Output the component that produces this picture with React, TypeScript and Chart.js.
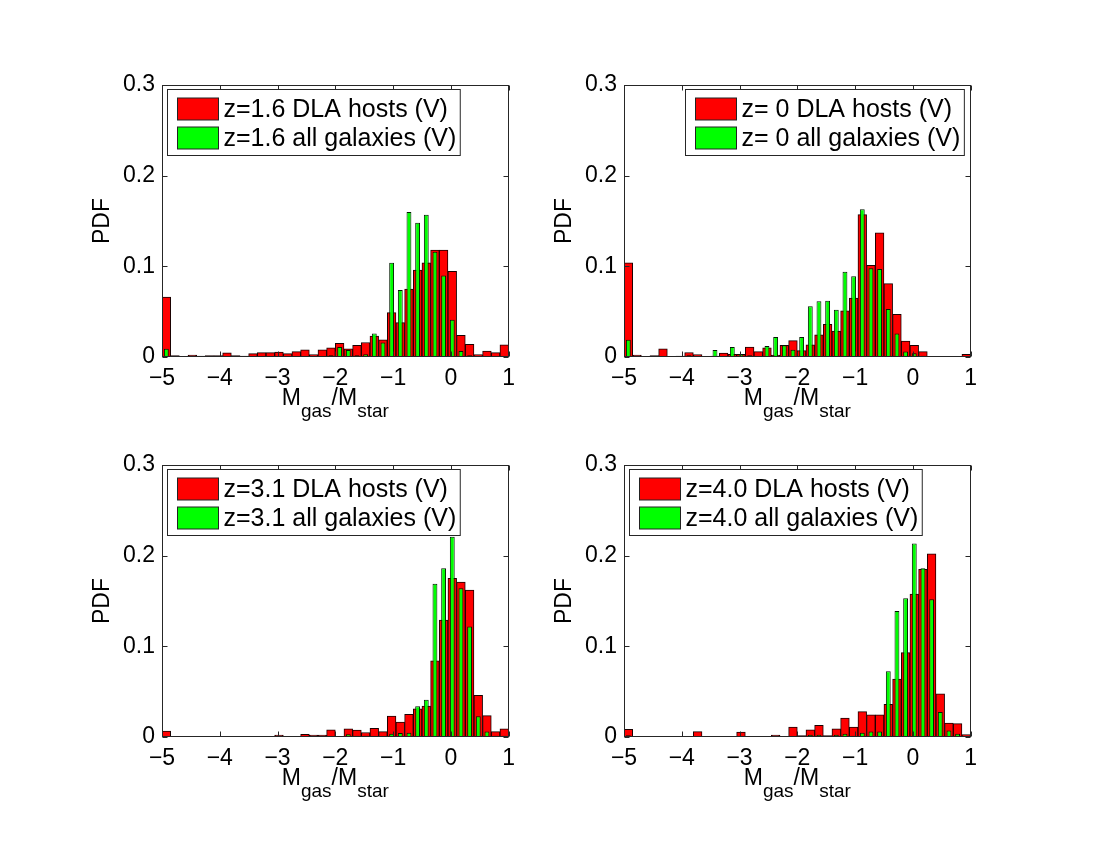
import { useEffect, useRef } from "react";
import { Chart, registerables } from "chart.js";
import type { Plugin } from "chart.js";

Chart.register(...registerables);

const FONT = "'Liberation Sans', Arial, Helvetica, sans-serif";

// centres of the 40 histogram bins (width 0.15) between -5 and 1
const BIN_CENTERS = [
  -4.925, -4.775, -4.625, -4.475, -4.325, -4.175, -4.025, -3.875, -3.725, -3.575,
  -3.425, -3.275, -3.125, -2.975, -2.825, -2.675, -2.525, -2.375, -2.225, -2.075,
  -1.925, -1.775, -1.625, -1.475, -1.325, -1.175, -1.025, -0.875, -0.725, -0.575,
  -0.425, -0.275, -0.125, 0.025, 0.175, 0.325, 0.475, 0.625, 0.775, 0.925,
];

const X_TICKS = [-5, -4, -3, -2, -1, 0, 1];
const Y_TICKS = [0, 0.1, 0.2, 0.3];

// z = 1.6
const DLA_Z16 = [
  0.066, 0.0015, 0.0007, 0.002, 0.001, 0.0015, 0.0015, 0.0045, 0.0015, 0.001,
  0.0037, 0.0048, 0.0048, 0.0055, 0.0037, 0.006, 0.008, 0.0026, 0.008, 0.01,
  0.015, 0.009, 0.013, 0.016, 0.023, 0.019, 0.049, 0.038, 0.075, 0.096,
  0.104, 0.118, 0.118, 0.0945, 0.024, 0.014, 0.0026, 0.0066, 0.0048, 0.0135,
];
const ALL_Z16 = [
  0.009, 0, 0, 0, 0, 0, 0, 0, 0, 0,
  0, 0, 0, 0.0005, 0, 0, 0, 0, 0.001, 0.002,
  0.011, 0.0077, 0.002, 0.003, 0.026, 0.016, 0.104, 0.074, 0.16, 0.148,
  0.157, 0.116, 0.09, 0.041, 0.0066, 0.002, 0, 0, 0, 0.0005,
];

// z = 0
const DLA_Z0 = [
  0.104, 0.002, 0.0003, 0.0015, 0.009, 0.0004, 0.001, 0.005, 0.0026, 0.0004,
  0.001, 0.0044, 0.003, 0.003, 0.011, 0.006, 0.01, 0.002, 0.013, 0.018,
  0.007, 0.0135, 0.0245, 0.036, 0.0285, 0.051, 0.065, 0.157, 0.101, 0.137,
  0.081, 0.047, 0.0176, 0.013, 0.006, 0.0004, 0.0003, 0.0003, 0.0003, 0.003,
];
const ALL_Z0 = [
  0.019, 0, 0, 0, 0.001, 0, 0.0005, 0.002, 0, 0,
  0.0077, 0.001, 0.011, 0.003, 0.002, 0.001, 0.012, 0.022, 0.013, 0.008,
  0.022, 0.056, 0.0615, 0.062, 0.052, 0.094, 0.089, 0.163, 0.098, 0.097,
  0.053, 0.026, 0.006, 0.004, 0.0015, 0, 0, 0, 0, 0,
];

// z = 3.1
const DLA_Z31 = [
  0.0066, 0, 0, 0, 0, 0, 0, 0, 0, 0,
  0, 0, 0, 0.002, 0, 0, 0.003, 0.002, 0.002, 0.008,
  0.0007, 0.009, 0.0077, 0.005, 0.0095, 0.006, 0.023, 0.0165, 0.025, 0.031,
  0.034, 0.084, 0.129, 0.175, 0.171, 0.162, 0.046, 0.0235, 0.006, 0.009,
];
const ALL_Z31 = [
  0, 0, 0, 0, 0, 0, 0, 0, 0, 0,
  0, 0, 0, 0, 0, 0, 0, 0, 0, 0.001,
  0, 0.003, 0.0015, 0.0015, 0.001, 0.001, 0.0037, 0.0044, 0.0048, 0.034,
  0.041, 0.169, 0.186, 0.221, 0.164, 0.122, 0.023, 0.006, 0.0015, 0.0015,
];

// z = 4.0
const DLA_Z40 = [
  0.0084, 0, 0, 0, 0, 0, 0, 0, 0.006, 0,
  0.0005, 0, 0, 0.0055, 0, 0, 0, 0.002, 0, 0.011,
  0.0015, 0.008, 0.013, 0.0015, 0.009, 0.021, 0.011, 0.028, 0.0245, 0.0245,
  0.036, 0.064, 0.093, 0.1575, 0.185, 0.202, 0.0476, 0.0154, 0.0147, 0.0026,
];
const ALL_Z40 = [
  0.002, 0, 0, 0, 0, 0, 0, 0, 0.001, 0,
  0, 0, 0, 0, 0, 0, 0, 0, 0, 0.001,
  0, 0.0026, 0.0026, 0, 0.0026, 0.0037, 0.0015, 0.0048, 0.006, 0.006,
  0.0725, 0.139, 0.153, 0.2135, 0.186, 0.152, 0.0275, 0.0073, 0.0037, 0,
];

const fmtX = (v: number) => String(v).replace("-", "\u2212");
const fmtY = (v: number) => (v === 0 ? "0" : v.toFixed(1));

// matlab-ish box, inward ticks, legend inside the axes and the subscripted xlabel
const matlabFrame: Plugin<"bar"> = {
  id: "matlabFrame",
  afterDraw(chart, _args, opts: any) {
    const { ctx, chartArea: a } = chart;
    const xs = chart.scales.x;
    const ys = chart.scales.y;
    const L = Math.round(a.left) + 0.5;
    const R = Math.round(a.right) - 0.5;
    const T = Math.round(a.top) + 0.5;
    const B = Math.round(a.bottom) - 0.5;

    ctx.save();
    ctx.strokeStyle = "#262626";
    ctx.lineWidth = 1;
    ctx.strokeRect(L, T, R - L, B - T);
    ctx.beginPath();
    xs.ticks.forEach((t) => {
      const px = Math.round(xs.getPixelForValue(t.value)) + 0.5;
      ctx.moveTo(px, B); ctx.lineTo(px, B - 5);
      ctx.moveTo(px, T); ctx.lineTo(px, T + 5);
    });
    ys.ticks.forEach((t) => {
      const py = Math.round(ys.getPixelForValue(t.value)) + 0.5;
      ctx.moveTo(L, py); ctx.lineTo(L + 5, py);
      ctx.moveTo(R, py); ctx.lineTo(R - 5, py);
    });
    ctx.stroke();

    // legend
    const ds = chart.data.datasets;
    ctx.font = `25px ${FONT}`;
    const tw = Math.max(...ds.map((d) => ctx.measureText(String(d.label)).width));
    const w = 10 + 41 + 5 + tw + 4;
    const h = 66;
    const bx = Math.round(opts.legendSide === "right" ? a.right - 7 - w : a.left + 5) + 0.5;
    const by = Math.round(a.top + 4) + 0.5;
    ctx.fillStyle = "#fff";
    ctx.fillRect(bx, by, w, h);
    ctx.strokeRect(bx, by, w, h);
    ctx.textBaseline = "middle";
    ctx.textAlign = "left";
    ds.forEach((d, i) => {
      const cy = by + 19.5 + i * 29;
      ctx.fillStyle = d.backgroundColor as string;
      ctx.fillRect(bx + 10, Math.round(cy - 11), 41, 22);
      ctx.strokeStyle = "#222";
      ctx.strokeRect(bx + 10, Math.round(cy - 11), 41, 22);
      ctx.fillStyle = "#000";
      ctx.fillText(String(d.label), bx + 56, cy + 1);
    });

    // xlabel  M_gas / M_star
    const parts: [string, number, number][] = [
      ["M", 23, 0],
      ["gas", 19, 12],
      ["/M", 23, 0],
      ["star", 19, 12],
    ];
    const widths = parts.map(([s, size]) => {
      ctx.font = `${size}px ${FONT}`;
      return ctx.measureText(s).width;
    });
    const total = widths.reduce((p, c) => p + c, 0);
    let cx = (a.left + a.right) / 2 - total / 2;
    const base = a.bottom + 48;
    ctx.textBaseline = "alphabetic";
    ctx.fillStyle = "#000";
    parts.forEach(([s, size, dy], i) => {
      ctx.font = `${size}px ${FONT}`;
      ctx.fillText(s, cx, base + dy);
      cx += widths[i];
    });
    ctx.restore();
  },
};

type PanelProps = {
  redLabel: string;
  greenLabel: string;
  red: number[];
  green: number[];
  legendSide: "left" | "right";
  left: number;
  top: number;
};

function Panel({ redLabel, greenLabel, red, green, legendSide, left, top }: PanelProps) {
  const canvasRef = useRef<HTMLCanvasElement | null>(null);

  useEffect(() => {
    const tickFont = { family: FONT, size: 23 };
    const chart = new Chart(canvasRef.current!, {
      type: "bar",
      data: {
        datasets: [
          {
            label: redLabel,
            data: BIN_CENTERS.map((x, i) => ({ x, y: red[i] })) as any,
            backgroundColor: "#ff0000",
            borderColor: "#1a0000",
            borderWidth: 1,
            borderSkipped: false,
            barPercentage: 1,
            categoryPercentage: 1,
            grouped: false,
            order: 2,
          },
          {
            label: greenLabel,
            data: BIN_CENTERS.map((x, i) => ({ x, y: green[i] })) as any,
            backgroundColor: "#00ff00",
            borderColor: "#001a00",
            borderWidth: 1,
            borderSkipped: false,
            barPercentage: 0.56,
            categoryPercentage: 1,
            grouped: false,
            order: 1,
          },
        ],
      },
      options: {
        responsive: false,
        animation: false,
        layout: { padding: { left: 27, top: 25, right: 10, bottom: 0 } },
        plugins: {
          legend: { display: false },
          tooltip: { enabled: false },
          ...({ matlabFrame: { legendSide } } as any),
        },
        scales: {
          x: {
            type: "linear",
            min: -5,
            max: 1,
            offset: false,
            grid: { display: false, drawTicks: false, offset: false },
            border: { display: false },
            afterBuildTicks: (s: any) => { s.ticks = X_TICKS.map((value) => ({ value })); },
            afterFit: (s: any) => { s.height = 83; },
            ticks: {
              padding: 8,
              color: "#000",
              font: tickFont,
              maxRotation: 0,
              autoSkip: false,
              callback: (v) => fmtX(Number(v)),
            },
          },
          y: {
            type: "linear",
            min: 0,
            max: 0.3,
            grid: { display: false, drawTicks: false },
            border: { display: false },
            afterBuildTicks: (s: any) => { s.ticks = Y_TICKS.map((value) => ({ value })); },
            afterFit: (s: any) => { s.width = 73; },
            ticks: {
              padding: 7,
              color: "#000",
              font: tickFont,
              callback: (v) => fmtY(Number(v)),
            },
            title: {
              display: true,
              text: "PDF",
              color: "#000",
              font: tickFont,
              padding: { top: 0, bottom: 0 },
            },
          },
        },
      },
      plugins: [matlabFrame],
    });
    return () => chart.destroy();
  }, []);

  return (
    <canvas
      ref={canvasRef}
      width={461}
      height={380}
      style={{ position: "absolute", left, top }}
    />
  );
}

export default function App() {
  return (
    <div style={{ position: "absolute", left: 0, top: 0, width: 1100, height: 850, background: "#fff" }}>
      <Panel redLabel="z=1.6 DLA hosts (V)" greenLabel="z=1.6 all galaxies (V)"
        red={DLA_Z16} green={ALL_Z16} legendSide="left" left={62} top={60} />
      <Panel redLabel="z= 0 DLA hosts (V)" greenLabel="z= 0 all galaxies (V)"
        red={DLA_Z0} green={ALL_Z0} legendSide="right" left={524} top={60} />
      <Panel redLabel="z=3.1 DLA hosts (V)" greenLabel="z=3.1 all galaxies (V)"
        red={DLA_Z31} green={ALL_Z31} legendSide="left" left={62} top={440} />
      <Panel redLabel="z=4.0 DLA hosts (V)" greenLabel="z=4.0 all galaxies (V)"
        red={DLA_Z40} green={ALL_Z40} legendSide="left" left={524} top={440} />
    </div>
  );
}
